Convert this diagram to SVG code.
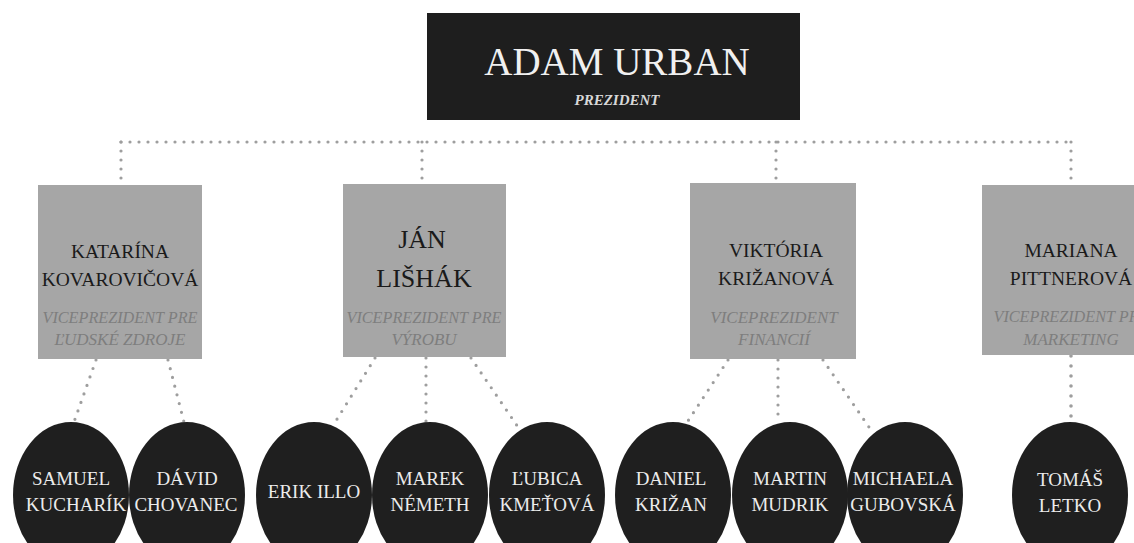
<svg xmlns="http://www.w3.org/2000/svg" width="1134" height="543" viewBox="0 0 1134 543">
<style>
.dot{fill:none;stroke:#9e9e9e;stroke-width:3.2;stroke-linecap:round;stroke-dasharray:0 9}
.vp{fill:#a6a6a6}
.nm{font-family:"Liberation Serif",serif;font-size:19.5px;fill:#1a1a1a;text-anchor:middle}
.big{font-family:"Liberation Serif",serif;font-size:26px;fill:#1a1a1a;text-anchor:middle}
.sub{font-family:"Liberation Serif",serif;font-style:italic;font-size:17px;fill:#7e7e7e;text-anchor:middle}
.emp{fill:#1f1f1f}
.en{font-family:"Liberation Serif",serif;font-size:19px;fill:#ececec;text-anchor:middle}
</style>
<rect width="1134" height="543" fill="#ffffff"/>
<g id="connectors">
<path class="dot" d="M121 142 H1071"/>
<path class="dot" d="M121 142 V185"/>
<path class="dot" d="M422 142 V184"/>
<path class="dot" d="M776 142 V183"/>
<path class="dot" d="M1071 142 V185"/>
<path class="dot" d="M96 360 L74 422"/>
<path class="dot" d="M168 360 L184 422"/>
<path class="dot" d="M375 358 L334 424"/>
<path class="dot" d="M426 358 L426 422"/>
<path class="dot" d="M471 358 L520 430"/>
<path class="dot" d="M728 360 L686 424"/>
<path class="dot" d="M778 360 L778 422"/>
<path class="dot" d="M823 360 L871 430"/>
<path class="dot" d="M1071 356 L1071 422" style="stroke-width:3.6;stroke-dasharray:0 10"/>
</g>
<g id="president">
<rect x="427" y="13" width="373" height="107" fill="#1e1e1e"/>
<text x="617" y="75" font-family="Liberation Serif, serif" font-size="39" fill="#f0f0f0" text-anchor="middle">ADAM URBAN</text>
<text x="617" y="105" font-family="Liberation Serif, serif" font-size="15" font-style="italic" font-weight="bold" fill="#d8d8d8" text-anchor="middle">PREZIDENT</text>
</g>
<g id="vp-kovarovicova">
<rect class="vp" x="38" y="185" width="164" height="174"/>
<text class="nm" x="120" y="258">KATARÍNA</text>
<text class="nm" x="120" y="286">KOVAROVIČOVÁ</text>
<text class="sub" x="120" y="323" textLength="155" lengthAdjust="spacingAndGlyphs">VICEPREZIDENT PRE</text>
<text class="sub" x="120" y="345">ĽUDSKÉ ZDROJE</text>
</g>
<g id="vp-lishak">
<rect class="vp" x="343" y="184" width="163" height="173"/>
<text class="big" x="422" y="248">JÁN</text>
<text class="big" x="424" y="287">LIŠHÁK</text>
<text class="sub" x="424" y="323" textLength="155" lengthAdjust="spacingAndGlyphs">VICEPREZIDENT PRE</text>
<text class="sub" x="424" y="345">VÝROBU</text>
</g>
<g id="vp-krizanova">
<rect class="vp" x="690" y="183" width="166" height="176"/>
<text class="nm" x="776" y="257">VIKTÓRIA</text>
<text class="nm" x="776" y="285">KRIŽANOVÁ</text>
<text class="sub" x="774" y="323">VICEPREZIDENT</text>
<text class="sub" x="774" y="345">FINANCIÍ</text>
</g>
<g id="vp-pittnerova">
<rect class="vp" x="982" y="185" width="180" height="170"/>
<text class="nm" x="1071" y="257">MARIANA</text>
<text class="nm" x="1071" y="285">PITTNEROVÁ</text>
<text class="sub" x="1071" y="322" textLength="155" lengthAdjust="spacingAndGlyphs">VICEPREZIDENT PRE</text>
<text class="sub" x="1071" y="345">MARKETING</text>
</g>
<g id="emp-kucharik">
<ellipse class="emp" cx="71" cy="495" rx="58" ry="73"/>
<text class="en" x="71" y="485">SAMUEL</text>
<text class="en" x="76" y="511">KUCHARÍK</text>
</g>
<g id="emp-chovanec">
<ellipse class="emp" cx="187" cy="495" rx="58" ry="73"/>
<text class="en" x="187" y="485">DÁVID</text>
<text class="en" x="186" y="511">CHOVANEC</text>
</g>
<g id="emp-illo">
<ellipse class="emp" cx="314" cy="495" rx="58" ry="73"/>
<text class="en" x="314" y="498">ERIK ILLO</text>
</g>
<g id="emp-nemeth">
<ellipse class="emp" cx="430" cy="495" rx="58" ry="73"/>
<text class="en" x="430" y="485">MAREK</text>
<text class="en" x="430" y="511">NÉMETH</text>
</g>
<g id="emp-kmetova">
<ellipse class="emp" cx="547" cy="495" rx="58" ry="73"/>
<text class="en" x="547" y="485">ĽUBICA</text>
<text class="en" x="547" y="511">KMEŤOVÁ</text>
</g>
<g id="emp-krizan">
<ellipse class="emp" cx="673" cy="495" rx="58" ry="73"/>
<text class="en" x="671" y="485">DANIEL</text>
<text class="en" x="671" y="511">KRIŽAN</text>
</g>
<g id="emp-mudrik">
<ellipse class="emp" cx="790" cy="495" rx="58" ry="73"/>
<text class="en" x="790" y="485">MARTIN</text>
<text class="en" x="790" y="511">MUDRIK</text>
</g>
<g id="emp-gubovska">
<ellipse class="emp" cx="905" cy="495" rx="58" ry="73"/>
<text class="en" x="903" y="485">MICHAELA</text>
<text class="en" x="903" y="511">GUBOVSKÁ</text>
</g>
<g id="emp-letko">
<ellipse class="emp" cx="1070" cy="495" rx="58" ry="73"/>
<text class="en" x="1070" y="486">TOMÁŠ</text>
<text class="en" x="1070" y="512">LETKO</text>
</g>
</svg>
